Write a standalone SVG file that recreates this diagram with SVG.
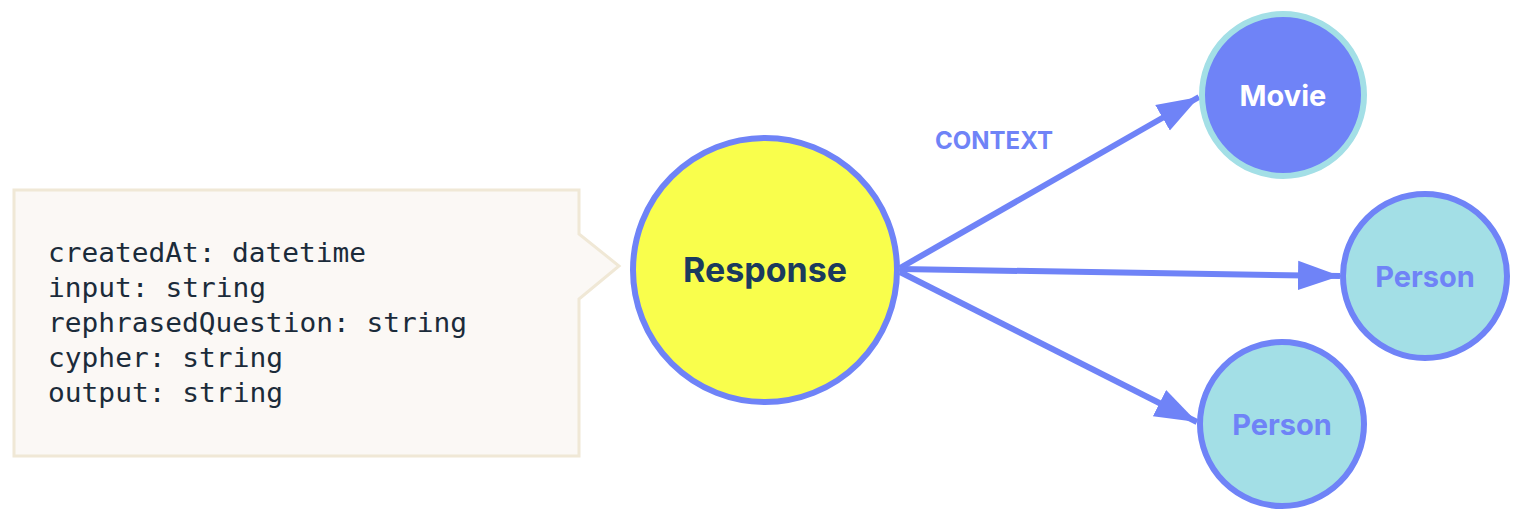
<svg xmlns="http://www.w3.org/2000/svg" width="1520" height="522" viewBox="0 0 1520 522">
<defs>
<style>
.edge{stroke:#6f83f7;stroke-width:6;fill:none}
.lbl{font-family:Inter,"Liberation Sans",sans-serif;font-weight:700}
.mono{font-family:"DejaVu Sans Mono","Liberation Mono",monospace;font-size:26px;fill:#1b2b3a}
</style>
<marker id="ah" viewBox="0 0 10 10" refX="10" refY="5" markerWidth="7" markerHeight="7" markerUnits="strokeWidth" orient="auto"><path d="M0,1.5 L10,5 L0,8.5 z" fill="#6f83f7"/></marker>
</defs>
<rect width="1520" height="522" fill="#fff"/>
<g id="callout">
<path d="M14,190 H579 V234 L619,266 L579,299 V456 H14 Z" fill="#fbf8f5" stroke="#f0e8d6" stroke-width="3"/>
<text class="mono" x="48" textLength="318" lengthAdjust="spacingAndGlyphs" y="262">createdAt: datetime</text>
<text class="mono" x="48" textLength="218" lengthAdjust="spacingAndGlyphs" y="297">input: string</text>
<text class="mono" x="48" textLength="419" lengthAdjust="spacingAndGlyphs" y="332">rephrasedQuestion: string</text>
<text class="mono" x="48" textLength="235" lengthAdjust="spacingAndGlyphs" y="367">cypher: string</text>
<text class="mono" x="48" textLength="235" lengthAdjust="spacingAndGlyphs" y="402">output: string</text>
</g>
<g id="connectors">
<line class="edge" x1="900" y1="268" x2="1199" y2="97" marker-end="url(#ah)"/>
<line class="edge" x1="900" y1="269" x2="1340" y2="276" marker-end="url(#ah)"/>
<line class="edge" x1="900" y1="272" x2="1197" y2="422" marker-end="url(#ah)"/>
<text class="lbl" x="994" y="149" font-size="24" fill="#6f83f7" text-anchor="middle">CONTEXT</text>
</g>
<g id="response">
<circle cx="765" cy="270" r="132" fill="#f9fe4c" stroke="#6f83f7" stroke-width="6"/>
<text class="lbl" x="765" y="282" font-size="34" fill="#1b3a5e" text-anchor="middle">Response</text>
</g>
<g id="movie">
<circle cx="1283" cy="95" r="81" fill="#6f83f7" stroke="#a3dfe6" stroke-width="6"/>
<text class="lbl" x="1283" y="106" font-size="29" fill="#fff" text-anchor="middle">Movie</text>
</g>
<g id="person1">
<circle cx="1425" cy="276" r="82" fill="#a3dfe6" stroke="#6f83f7" stroke-width="6"/>
<text class="lbl" x="1425" y="287" font-size="29" fill="#6f83f7" text-anchor="middle">Person</text>
</g>
<g id="person2">
<circle cx="1282" cy="424" r="82" fill="#a3dfe6" stroke="#6f83f7" stroke-width="6"/>
<text class="lbl" x="1282" y="435" font-size="29" fill="#6f83f7" text-anchor="middle">Person</text>
</g>
</svg>
